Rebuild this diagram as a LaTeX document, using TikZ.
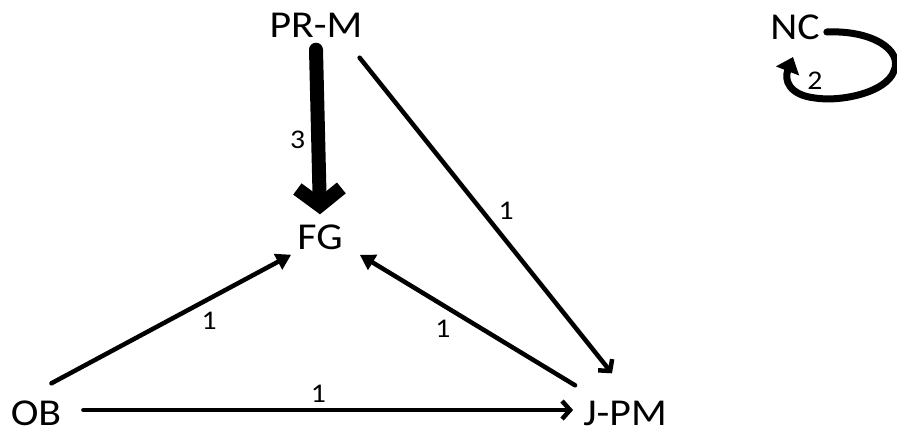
\documentclass[tikz,border=0pt]{standalone}
\usepackage{fontspec}
\setmainfont[FakeStretch=1.1]{Carlito}
\usetikzlibrary{arrows.meta}
\tikzset{
  nd/.style={font=\fontsize{38}{38}\selectfont, text height=23pt, text depth=0pt, inner sep=12pt},
  lbl/.style={font=\fontsize{27}{27}\selectfont, inner sep=1pt},
  arr/.style={line width=4.5pt, line cap=round},
  filltip/.style={-{Triangle[length=15pt,width=17pt]}},
  barbtip/.style={-{Straight Barb[length=8pt,width=18pt]}},
}
\begin{document}
\begin{tikzpicture}[x=1pt,y=-1pt]
\useasboundingbox (0,0) rectangle (897,437);
\node[nd] (prm) at (316,26) {PR-M};
\node[nd] (fg) at (320,238) {FG};
\node[nd] (ob) at (36,414) {OB};
\node[nd] (jpm) at (625,414) {J-PM};
\node[nd] (nc) at (795,28) {NC};

\draw[line width=14pt, line cap=round, -{Straight Barb[length=17pt,width=44pt]}]
  (prm.south) -- (fg.north) node[lbl, pos=0.55, left=5pt] {3};
\draw[arr, barbtip] ([xshift=-15pt,yshift=-8pt]prm.south east) -- ([xshift=-13pt,yshift=17pt]jpm.north)
  node[lbl, pos=0.53, above right=2pt] {1};
\draw[arr, filltip] ([xshift=-22pt,yshift=7pt]ob.north east) -- ([xshift=6pt,yshift=7pt]fg.south west)
  node[lbl, pos=0.6, below right=3pt] {1};
\draw[arr, filltip] ([xshift=4pt,yshift=5pt]jpm.north west) -- ([xshift=5pt,yshift=7pt]fg.south east)
  node[lbl, pos=0.55, below left=3pt] {1};
\draw[arr, barbtip] ([xshift=10pt,yshift=4pt]ob.east) -- ([xshift=2pt,yshift=4pt]jpm.west)
  node[lbl, pos=0.48, above=4pt] {1};
\draw[line width=7pt, line cap=round, -{Triangle[length=15pt,width=24pt]}]
  ([xshift=-5pt,yshift=-4pt]nc.east) .. controls (872,30) and (903,50) .. (894,71)
  .. controls (886,93) and (840,102) .. (815,98)
  .. controls (789,95) and (784,80) .. (793,57);
\node[lbl] (two) at (815,81) {2};
\end{tikzpicture}
\end{document}
